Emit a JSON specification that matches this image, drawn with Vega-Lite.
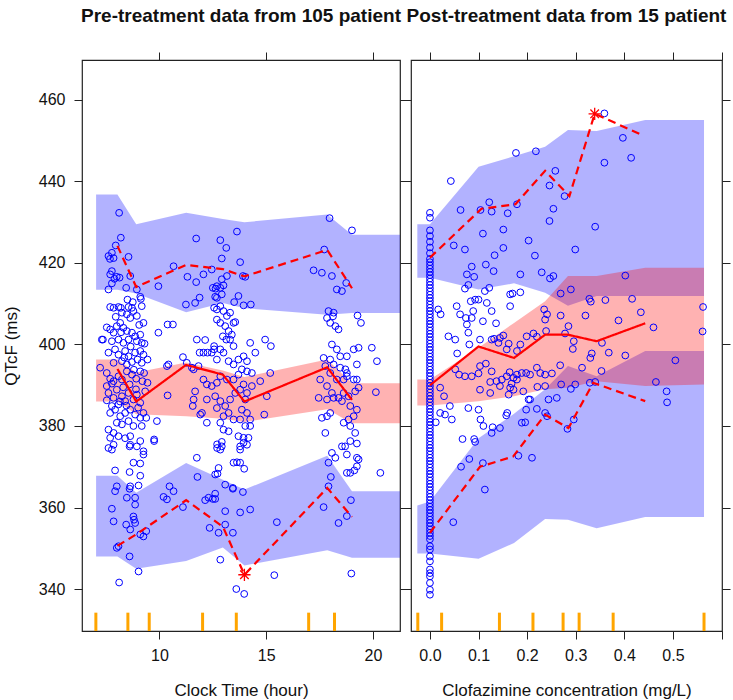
{
"$schema": "https://vega.github.io/schema/vega-lite/v6.json",
"padding": {"left": 1, "top": 5, "right": 0, "bottom": 2},
"bounds": "flush",
"spacing": 11,
"config": {
  "view": {"stroke": "#222", "strokeWidth": 1.2},
  "font": "Liberation Sans",
  "axis": {"grid": false, "domain": false, "tickColor": "#222", "tickSize": 8, "tickWidth": 1, "labelFontSize": 16, "titleFontSize": 17, "titleFontWeight": "normal", "labelColor": "#111", "titleColor": "#111", "labelFont": "Liberation Sans", "titleFont": "Liberation Sans"},
  "title": {"fontSize": 19, "fontWeight": "bold", "font": "Liberation Sans", "color": "#111", "offset": 26}
},
"datasets": {
  "bluL": [
    {"x":7.03,"lo":413.4,"hi":436.8,"b":"u"},{"x":8.03,"lo":413.4,"hi":436.8,"b":"u"},{"x":8.91,"lo":412.5,"hi":429.5,"b":"u"},{"x":11.25,"lo":407.9,"hi":432.3,"b":"u"},{"x":12.97,"lo":410.2,"hi":430.8,"b":"u"},{"x":13.98,"lo":408.9,"hi":430.0,"b":"u"},{"x":17.86,"lo":407.3,"hi":431.9,"b":"u"},{"x":19.02,"lo":407.7,"hi":426.9,"b":"u"},{"x":21.4,"lo":407.7,"hi":426.9,"b":"u"},
    {"x":7.03,"lo":348.0,"hi":367.8,"b":"l"},{"x":8.03,"lo":348.0,"hi":367.8,"b":"l"},{"x":8.91,"lo":345.0,"hi":363.6,"b":"l"},{"x":11.25,"lo":346.9,"hi":370.9,"b":"l"},{"x":12.97,"lo":350.2,"hi":366.8,"b":"l"},{"x":13.98,"lo":345.8,"hi":364.4,"b":"l"},{"x":17.86,"lo":349.5,"hi":372.7,"b":"l"},{"x":19.02,"lo":347.7,"hi":364.0,"b":"l"},{"x":21.4,"lo":347.7,"hi":364.0,"b":"l"}
  ],
  "pinkL": [
    {"x":7.03,"lo":386.0,"hi":396.3},{"x":8.03,"lo":386.0,"hi":396.3},{"x":8.91,"lo":382.9,"hi":393.1},{"x":11.25,"lo":382.4,"hi":395.6},{"x":12.97,"lo":381.8,"hi":393.6},{"x":13.98,"lo":381.0,"hi":392.0},{"x":17.86,"lo":384.1,"hi":396.3},{"x":19.02,"lo":380.7,"hi":390.5},{"x":21.4,"lo":380.7,"hi":390.5}
  ],
  "obsL": [
    {"x":8.03,"y":394.0,"q":"p50"},{"x":8.91,"y":386.0,"q":"p50"},{"x":11.25,"y":395.0,"q":"p50"},{"x":12.97,"y":392.6,"q":"p50"},{"x":13.98,"y":386.0,"q":"p50"},{"x":17.86,"y":394.4,"q":"p50"},{"x":19.02,"y":386.4,"q":"p50"},
    {"x":8.03,"y":424.2,"q":"p95"},{"x":8.91,"y":414.1,"q":"p95"},{"x":11.25,"y":419.5,"q":"p95"},{"x":12.97,"y":418.5,"q":"p95"},{"x":13.98,"y":416.7,"q":"p95"},{"x":17.86,"y":423.2,"q":"p95"},{"x":19.02,"y":413.8,"q":"p95"},
    {"x":8.03,"y":350.6,"q":"p05"},{"x":8.91,"y":353.4,"q":"p05"},{"x":11.25,"y":361.8,"q":"p05"},{"x":12.97,"y":355.3,"q":"p05"},{"x":13.98,"y":343.5,"q":"p05"},{"x":17.86,"y":364.8,"q":"p05"},{"x":19.02,"y":357.7,"q":"p05"}
  ],
  "starL": [{"x":13.98,"y":343.5}],
  "rugL": [{"x":7.02},{"x":8.52},{"x":9.52},{"x":12.02},{"x":13.6},{"x":16.99},{"x":18.2}],
  "ptsL": [
    {"x":8.11,"y":432.3},{"x":8.19,"y":426.2},{"x":7.95,"y":424.3},{"x":7.77,"y":422.5},{"x":7.61,"y":421.7},{"x":8.55,"y":421.5},{"x":11.72,"y":426.0},{"x":12.85,"y":425.6},{"x":13.13,"y":423.7},{"x":13.63,"y":427.7},{"x":12.92,"y":421.1},{"x":17.97,"y":431.0},{"x":19.02,"y":428.0},{"x":17.72,"y":423.3},{"x":7.68,"y":421.0},{"x":7.85,"y":421.2},{"x":13.78,"y":420.2},
    {"x":7.77,"y":418.0},{"x":7.69,"y":417.2},{"x":7.89,"y":416.1},{"x":8.13,"y":416.4},{"x":8.0,"y":416.6},{"x":8.63,"y":416.8},{"x":7.77,"y":415.0},{"x":7.61,"y":413.5},{"x":8.44,"y":413.9},{"x":8.94,"y":413.5},{"x":9.1,"y":411.7},{"x":9.13,"y":411.2},{"x":9.95,"y":414.3},{"x":10.66,"y":419.2},{"x":11.31,"y":416.6},{"x":11.72,"y":415.3},{"x":12.06,"y":417.2},{"x":11.24,"y":409.8},{"x":11.67,"y":410.2},{"x":11.88,"y":411.5},{"x":12.45,"y":418.4},{"x":13.16,"y":416.8},{"x":12.92,"y":416.0},{"x":12.69,"y":414.3},{"x":12.5,"y":413.9},{"x":12.63,"y":413.7},{"x":12.85,"y":413.9},{"x":13.0,"y":414.5},{"x":12.61,"y":411.7},{"x":12.69,"y":411.45},{"x":12.92,"y":412.3},{"x":13.91,"y":416.8},{"x":14.02,"y":416.6},{"x":13.7,"y":411.9},{"x":13.5,"y":410.4},{"x":13.94,"y":409.6},{"x":14.28,"y":409.8},{"x":17.22,"y":418.2},{"x":17.61,"y":417.6},{"x":18.08,"y":416.8},{"x":18.31,"y":413.5},{"x":18.55,"y":413.1},{"x":18.75,"y":415.1},{"x":17.92,"y":408.2},{"x":18.16,"y":407.8},{"x":17.85,"y":406.5},{"x":18.13,"y":406.9},{"x":19.28,"y":407.1},{"x":19.44,"y":405.3},
    {"x":8.08,"y":409.2},{"x":7.69,"y":409.2},{"x":7.85,"y":409.0},{"x":8.19,"y":409.0},{"x":8.55,"y":409.2},{"x":8.71,"y":409.0},{"x":8.78,"y":408.2},{"x":8.24,"y":407.8},{"x":8.47,"y":407.4},{"x":8.63,"y":406.5},{"x":8.94,"y":407.0},{"x":9.17,"y":409.4},
    {"x":7.53,"y":404.2},{"x":7.69,"y":403.7},{"x":7.85,"y":402.9},{"x":8.0,"y":404.5},{"x":8.16,"y":405.3},{"x":8.31,"y":404.1},{"x":8.47,"y":403.3},{"x":8.71,"y":402.9},{"x":8.86,"y":402.0},{"x":9.1,"y":402.4},{"x":9.25,"y":405.3},{"x":7.35,"y":401.2},{"x":7.3,"y":401.2},{"x":7.77,"y":400.8},{"x":8.08,"y":401.2},{"x":8.31,"y":400.4},{"x":8.55,"y":401.2},{"x":8.94,"y":400.8},{"x":9.17,"y":400.4},
    {"x":7.61,"y":398.0},{"x":7.92,"y":398.8},{"x":8.08,"y":397.5},{"x":8.39,"y":398.4},{"x":8.55,"y":397.1},{"x":8.86,"y":398.0},{"x":9.1,"y":398.4},{"x":9.25,"y":397.5},{"x":9.44,"y":396.3},{"x":7.85,"y":395.5},{"x":8.24,"y":395.9},{"x":8.47,"y":395.1},{"x":8.71,"y":395.7},{"x":8.97,"y":396.3},{"x":9.17,"y":395.5},
    {"x":7.22,"y":394.3},{"x":7.53,"y":393.0},{"x":7.69,"y":391.6},{"x":7.85,"y":391.0},{"x":8.08,"y":392.2},{"x":8.24,"y":391.4},{"x":8.47,"y":393.4},{"x":8.71,"y":392.6},{"x":8.91,"y":391.6},{"x":9.1,"y":393.4},{"x":9.28,"y":393.0},{"x":9.44,"y":390.6},{"x":7.53,"y":389.8},{"x":7.77,"y":390.4},
    {"x":7.61,"y":388.1},{"x":7.85,"y":386.9},{"x":8.0,"y":388.9},{"x":8.24,"y":387.3},{"x":8.39,"y":386.1},{"x":8.55,"y":388.1},{"x":8.78,"y":386.5},{"x":8.94,"y":387.7},{"x":9.1,"y":385.7},{"x":9.33,"y":388.5},{"x":7.53,"y":386.3},{"x":7.77,"y":384.9},{"x":8.08,"y":385.3},
    {"x":7.69,"y":383.2},{"x":7.92,"y":384.0},{"x":8.16,"y":382.4},{"x":8.39,"y":383.2},{"x":8.63,"y":384.0},{"x":8.86,"y":382.8},{"x":9.1,"y":382.0},{"x":9.25,"y":383.2},{"x":8.0,"y":380.8},{"x":8.24,"y":380.4},{"x":8.55,"y":381.2},{"x":8.78,"y":380.0},{"x":9.17,"y":380.0},{"x":9.38,"y":382.0},
    {"x":7.61,"y":379.1},{"x":7.85,"y":378.3},{"x":8.08,"y":377.5},{"x":8.39,"y":377.0},{"x":8.63,"y":377.5},{"x":7.69,"y":377.1},
    {"x":8.3,"y":389.5},{"x":8.6,"y":390.2},{"x":8.9,"y":389.0},{"x":9.0,"y":384.5},{"x":8.45,"y":385.0},{"x":8.15,"y":386.0},{"x":8.8,"y":393.8},{"x":8.35,"y":396.8},{"x":8.65,"y":399.5},{"x":9.05,"y":404.8},{"x":8.2,"y":403.0},{"x":7.95,"y":406.8},{"x":8.5,"y":411.0},{"x":8.75,"y":410.4},{"x":9.3,"y":400.2},{"x":9.2,"y":391.0},
    {"x":9.95,"y":402.9},{"x":10.38,"y":404.9},{"x":10.63,"y":404.9},{"x":10.35,"y":394.7},{"x":10.42,"y":395.1},{"x":10.38,"y":387.5},{"x":9.88,"y":381.2},{"x":9.75,"y":376.7},
    {"x":11.1,"y":396.9},{"x":11.28,"y":395.5},{"x":11.75,"y":401.2},{"x":12.14,"y":401.1},{"x":11.88,"y":398.0},{"x":12.06,"y":398.0},{"x":12.25,"y":398.0},{"x":11.52,"y":394.3},{"x":11.6,"y":393.9},{"x":11.83,"y":394.7},{"x":11.67,"y":388.5},{"x":11.56,"y":384.9},{"x":11.6,"y":386.5},{"x":12.06,"y":391.4},{"x":11.99,"y":383.2},{"x":11.91,"y":382.8},{"x":12.22,"y":380.8},{"x":12.22,"y":386.5},{"x":12.45,"y":398.0},{"x":12.56,"y":399.6},
    {"x":12.56,"y":409.0},{"x":12.69,"y":408.6},{"x":12.85,"y":409.4},{"x":13.0,"y":408.2},{"x":13.16,"y":407.0},{"x":13.31,"y":407.8},{"x":13.47,"y":405.3},{"x":12.69,"y":406.1},{"x":12.85,"y":405.3},{"x":13.08,"y":404.5},{"x":13.24,"y":403.3},{"x":13.39,"y":402.4},{"x":13.55,"y":405.5},{"x":12.97,"y":402.0},{"x":13.13,"y":401.2},{"x":13.31,"y":401.2},{"x":13.47,"y":399.6},{"x":12.56,"y":398.8},{"x":12.85,"y":398.8},{"x":12.69,"y":396.3},{"x":13.0,"y":398.0},{"x":13.24,"y":395.9},{"x":13.47,"y":395.1},{"x":13.7,"y":396.3},{"x":13.94,"y":397.1},{"x":14.1,"y":395.9},{"x":14.25,"y":400.4},{"x":14.49,"y":398.0},{"x":13.86,"y":393.9},{"x":14.1,"y":393.4},{"x":14.33,"y":393.0},{"x":13.7,"y":392.6},{"x":13.47,"y":391.4},{"x":13.16,"y":391.4},{"x":12.85,"y":392.2},{"x":12.69,"y":390.6},{"x":12.45,"y":389.8},{"x":12.22,"y":390.2},{"x":12.61,"y":387.3},{"x":12.85,"y":386.1},{"x":13.08,"y":384.9},{"x":13.31,"y":386.5},{"x":13.55,"y":388.1},{"x":13.78,"y":388.9},{"x":13.94,"y":390.2},{"x":14.1,"y":388.1},{"x":14.33,"y":389.8},{"x":14.02,"y":386.5},{"x":13.86,"y":384.0},{"x":14.1,"y":383.2},{"x":14.25,"y":381.6},{"x":13.78,"y":381.6},{"x":14.02,"y":380.0},{"x":14.25,"y":380.0},{"x":13.47,"y":381.6},{"x":13.24,"y":383.2},{"x":13.0,"y":382.4},{"x":12.85,"y":380.8},{"x":12.69,"y":384.4},{"x":13.24,"y":378.7},{"x":13.7,"y":377.5},{"x":13.94,"y":377.1},{"x":14.17,"y":377.1},{"x":13.0,"y":379.1},
    {"x":14.72,"y":391.0},{"x":15.19,"y":393.0},{"x":15.03,"y":387.3},{"x":14.91,"y":382.8},{"x":14.95,"y":401.2},{"x":15.22,"y":399.6},
    {"x":18.0,"y":405.3},{"x":18.24,"y":404.5},{"x":18.39,"y":403.7},{"x":18.08,"y":400.0},{"x":18.31,"y":398.8},{"x":18.47,"y":397.1},{"x":18.78,"y":397.1},{"x":19.1,"y":398.8},{"x":17.69,"y":396.7},{"x":18.0,"y":396.3},{"x":18.16,"y":395.1},{"x":17.77,"y":394.7},{"x":18.47,"y":394.3},{"x":18.71,"y":393.9},{"x":18.78,"y":392.2},{"x":18.0,"y":393.0},{"x":18.31,"y":391.4},{"x":18.63,"y":391.4},{"x":19.1,"y":391.4},{"x":19.25,"y":391.4},{"x":19.33,"y":389.4},{"x":17.53,"y":391.4},{"x":17.85,"y":389.8},{"x":18.08,"y":388.1},{"x":18.39,"y":386.9},{"x":18.63,"y":388.1},{"x":18.86,"y":387.3},{"x":19.17,"y":388.5},{"x":17.46,"y":386.9},{"x":17.85,"y":386.5},{"x":18.16,"y":386.9},{"x":18.55,"y":386.1},{"x":18.94,"y":384.9},{"x":19.25,"y":384.0},{"x":19.1,"y":382.4},{"x":18.86,"y":381.6},{"x":18.63,"y":380.8},{"x":18.94,"y":380.0},{"x":19.17,"y":378.3},{"x":17.85,"y":382.4},{"x":17.61,"y":382.0},{"x":17.77,"y":378.3},{"x":18.0,"y":383.2},{"x":19.33,"y":399.2},{"x":19.25,"y":395.1},{"x":18.78,"y":393.0},
    {"x":19.95,"y":399.2},{"x":20.19,"y":395.9},{"x":20.14,"y":388.3},
    {"x":7.61,"y":374.6},{"x":7.77,"y":374.2},{"x":7.85,"y":375.4},{"x":8.63,"y":375.4},{"x":8.6,"y":375.0},{"x":8.94,"y":375.0},{"x":9.1,"y":376.3},{"x":9.25,"y":373.8},{"x":9.25,"y":373.0},{"x":8.78,"y":371.0},{"x":9.1,"y":370.8},{"x":7.92,"y":369.1},{"x":8.6,"y":368.7},{"x":9.1,"y":367.8},{"x":8.0,"y":365.2},{"x":7.92,"y":364.0},{"x":8.63,"y":365.2},{"x":8.6,"y":364.6},{"x":9.02,"y":365.4},{"x":8.47,"y":362.4},{"x":8.86,"y":362.4},{"x":8.86,"y":360.7},{"x":7.77,"y":359.7},{"x":7.85,"y":356.6},{"x":8.44,"y":355.8},{"x":8.63,"y":354.6},{"x":8.78,"y":357.8},{"x":8.81,"y":357.0},{"x":8.86,"y":356.2},{"x":9.1,"y":353.4},{"x":9.25,"y":352.9},{"x":9.38,"y":354.2},{"x":8.0,"y":350.1},{"x":8.08,"y":350.5},{"x":8.6,"y":348.0},{"x":9.02,"y":344.3},{"x":8.11,"y":341.6},
    {"x":9.75,"y":376.3},{"x":10.47,"y":365.2},{"x":10.66,"y":364.0},{"x":10.19,"y":362.6},{"x":10.35,"y":362.0},{"x":11.1,"y":360.1},{"x":11.75,"y":372.2},{"x":11.78,"y":367.5},{"x":12.14,"y":361.8},{"x":12.3,"y":362.4},{"x":12.5,"y":362.1},{"x":12.61,"y":363.4},{"x":12.61,"y":362.1},{"x":12.35,"y":355.0},{"x":12.77,"y":353.8},{"x":12.77,"y":369.7},{"x":12.61,"y":368.1},{"x":12.72,"y":368.3},{"x":12.85,"y":347.2},{"x":12.7,"y":375.5},{"x":12.92,"y":375.0},{"x":12.85,"y":374.2},{"x":12.7,"y":374.6},{"x":12.92,"y":376.1},
    {"x":13.08,"y":365.6},{"x":13.44,"y":364.8},{"x":13.08,"y":359.1},{"x":13.08,"y":355.8},{"x":13.44,"y":353.8},{"x":13.47,"y":371.0},{"x":13.63,"y":371.1},{"x":13.78,"y":371.0},{"x":13.97,"y":369.5},{"x":13.78,"y":375.0},{"x":13.94,"y":375.9},{"x":13.78,"y":374.2},{"x":14.1,"y":375.4},{"x":13.44,"y":364.6},{"x":13.78,"y":358.8},{"x":13.91,"y":363.8},{"x":14.25,"y":359.5},{"x":13.6,"y":340.0},{"x":13.97,"y":338.8},{"x":15.5,"y":356.4},{"x":15.38,"y":343.4},
    {"x":17.92,"y":371.0},{"x":18.08,"y":373.4},{"x":18.24,"y":372.2},{"x":18.03,"y":367.5},{"x":17.92,"y":365.2},{"x":17.69,"y":360.1},{"x":18.39,"y":356.2},{"x":18.78,"y":357.9},{"x":18.97,"y":361.8},{"x":18.78,"y":368.5},{"x":18.94,"y":368.5},{"x":19.13,"y":369.1},{"x":19.25,"y":370.1},{"x":18.7,"y":375.0},{"x":18.94,"y":376.3},{"x":19.25,"y":375.7},{"x":18.55,"y":375.0},{"x":18.78,"y":373.0},{"x":19.25,"y":372.2},{"x":19.33,"y":371.8},{"x":18.99,"y":343.8},{"x":20.35,"y":368.5}
  ],
  "bluR": [
    {"x":-0.026,"lo":416.4,"hi":429.5,"b":"u"},{"x":0,"lo":416.4,"hi":429.5,"b":"u"},{"x":0.1,"lo":413.5,"hi":443.6,"b":"u"},{"x":0.173,"lo":415.0,"hi":446.2,"b":"u"},{"x":0.237,"lo":412.7,"hi":448.5,"b":"u"},{"x":0.284,"lo":409.5,"hi":452.6,"b":"u"},{"x":0.343,"lo":411.9,"hi":452.4,"b":"u"},{"x":0.443,"lo":411.9,"hi":455.1,"b":"u"},{"x":0.564,"lo":411.9,"hi":455.1,"b":"u"},
    {"x":-0.026,"lo":348.7,"hi":360.5,"b":"l"},{"x":0,"lo":348.7,"hi":361.5,"b":"l"},{"x":0.1,"lo":347.4,"hi":377.0,"b":"l"},{"x":0.173,"lo":351.3,"hi":383.0,"b":"l"},{"x":0.237,"lo":357.2,"hi":389.0,"b":"l"},{"x":0.284,"lo":357.0,"hi":394.7,"b":"l"},{"x":0.343,"lo":354.9,"hi":392.2,"b":"l"},{"x":0.443,"lo":357.7,"hi":398.4,"b":"l"},{"x":0.564,"lo":357.7,"hi":398.4,"b":"l"}
  ],
  "pinkR": [
    {"x":-0.026,"lo":385.0,"hi":391.4},{"x":0,"lo":385.0,"hi":391.4},{"x":0.1,"lo":386.1,"hi":399.2},{"x":0.173,"lo":387.3,"hi":405.3},{"x":0.237,"lo":389.0,"hi":410.6},{"x":0.284,"lo":389.4,"hi":416.8},{"x":0.343,"lo":391.0,"hi":416.8},{"x":0.443,"lo":389.8,"hi":418.8},{"x":0.564,"lo":390.2,"hi":418.8}
  ],
  "obsR": [
    {"x":0,"y":390.0,"q":"p50"},{"x":0.1,"y":399.5,"q":"p50"},{"x":0.173,"y":396.7,"q":"p50"},{"x":0.237,"y":402.4,"q":"p50"},{"x":0.284,"y":402.4,"q":"p50"},{"x":0.343,"y":400.8,"q":"p50"},{"x":0.443,"y":405.2,"q":"p50"},
    {"x":0,"y":421.3,"q":"p95"},{"x":0.106,"y":433.3,"q":"p95"},{"x":0.176,"y":434.4,"q":"p95"},{"x":0.237,"y":442.6,"q":"p95"},{"x":0.287,"y":436.4,"q":"p95"},{"x":0.339,"y":456.6,"q":"p95"},{"x":0.433,"y":451.6,"q":"p95"},
    {"x":0,"y":353.8,"q":"p05"},{"x":0.103,"y":370.0,"q":"p05"},{"x":0.171,"y":372.5,"q":"p05"},{"x":0.237,"y":382.8,"q":"p05"},{"x":0.285,"y":379.5,"q":"p05"},{"x":0.336,"y":390.6,"q":"p05"},{"x":0.443,"y":386.1,"q":"p05"}
  ],
  "starR": [{"x":0.339,"y":456.6}],
  "rugR": [{"x":-0.025},{"x":0.024},{"x":0.143},{"x":0.212},{"x":0.274},{"x":0.307},{"x":0.377},{"x":0.564}],
  "ptsR": [
    {"x":0,"y":432.3},{"x":0,"y":431.1},{"x":0,"y":428.0},{"x":0,"y":426.6},{"x":0,"y":425.2},{"x":0,"y":423.8},{"x":0,"y":422.4},{"x":0,"y":421.0},
    {"x":0,"y":420.2},{"x":0,"y":419.4},{"x":0,"y":418.6},{"x":0,"y":417.8},{"x":0,"y":417.0},{"x":0,"y":416.2},{"x":0,"y":415.4},{"x":0,"y":414.6},{"x":0,"y":413.8},{"x":0,"y":413.0},{"x":0,"y":412.2},{"x":0,"y":411.4},{"x":0,"y":410.6},{"x":0,"y":409.8},{"x":0,"y":409.0},{"x":0,"y":408.2},{"x":0,"y":407.4},{"x":0,"y":406.6},{"x":0,"y":405.8},{"x":0,"y":405.0},{"x":0,"y":404.2},{"x":0,"y":403.4},{"x":0,"y":402.6},{"x":0,"y":401.8},{"x":0,"y":401.0},{"x":0,"y":400.2},{"x":0,"y":399.4},{"x":0,"y":398.6},{"x":0,"y":397.8},{"x":0,"y":397.0},{"x":0,"y":396.2},{"x":0,"y":395.4},{"x":0,"y":394.6},{"x":0,"y":393.8},{"x":0,"y":393.0},{"x":0,"y":392.2},{"x":0,"y":391.4},{"x":0,"y":390.6},{"x":0,"y":389.8},{"x":0,"y":389.0},{"x":0,"y":388.2},{"x":0,"y":387.4},{"x":0,"y":386.6},{"x":0,"y":385.8},{"x":0,"y":385.0},{"x":0,"y":384.2},{"x":0,"y":383.4},{"x":0,"y":382.6},{"x":0,"y":381.8},{"x":0,"y":381.0},{"x":0,"y":380.2},{"x":0,"y":379.4},{"x":0,"y":378.6},{"x":0,"y":377.8},{"x":0,"y":377.0},{"x":0,"y":376.2},{"x":0,"y":375.4},{"x":0,"y":374.6},{"x":0,"y":373.8},{"x":0,"y":373.0},{"x":0,"y":372.2},{"x":0,"y":371.4},{"x":0,"y":370.6},{"x":0,"y":369.8},{"x":0,"y":369.0},{"x":0,"y":368.2},{"x":0,"y":367.4},{"x":0,"y":366.6},{"x":0,"y":365.8},{"x":0,"y":365.0},{"x":0,"y":364.2},{"x":0,"y":363.4},{"x":0,"y":362.6},{"x":0,"y":361.8},{"x":0,"y":361.0},{"x":0,"y":360.2},{"x":0,"y":359.4},{"x":0,"y":358.6},{"x":0,"y":357.8},{"x":0,"y":357.0},{"x":0,"y":356.2},{"x":0,"y":355.4},{"x":0,"y":354.6},{"x":0,"y":353.8},{"x":0,"y":353.0},{"x":0,"y":352.2},
    {"x":0,"y":350.5},{"x":0,"y":349.7},{"x":0,"y":348.0},{"x":0,"y":346.8},{"x":0,"y":344.8},{"x":0,"y":343.9},{"x":0,"y":343.1},{"x":0,"y":341.5},{"x":0,"y":339.8},{"x":0,"y":338.6},
    {"x":0.177,"y":447.0},{"x":0.218,"y":447.4},{"x":0.258,"y":442.6},{"x":0.359,"y":456.7},{"x":0.397,"y":450.7},{"x":0.414,"y":445.8},{"x":0.359,"y":444.6},
    {"x":0.043,"y":440.1},{"x":0.063,"y":433.0},{"x":0.049,"y":424.3},{"x":0.072,"y":423.3},{"x":0.086,"y":419.1},{"x":0.076,"y":417.2},{"x":0.091,"y":416.6},{"x":0.072,"y":413.7},{"x":0.079,"y":414.6},{"x":0.115,"y":419.6},{"x":0.122,"y":434.9},{"x":0.104,"y":433.0},{"x":0.127,"y":432.6},{"x":0.16,"y":432.2},{"x":0.179,"y":434.4},{"x":0.151,"y":428.2},{"x":0.109,"y":427.2},{"x":0.133,"y":421.9},{"x":0.131,"y":418.0},{"x":0.151,"y":423.7},{"x":0.203,"y":425.5},{"x":0.216,"y":421.8},{"x":0.186,"y":417.2},{"x":0.23,"y":417.7},{"x":0.247,"y":416.2},{"x":0.254,"y":416.8},{"x":0.246,"y":439.0},{"x":0.277,"y":436.4},{"x":0.254,"y":433.3},{"x":0.246,"y":430.3},{"x":0.34,"y":428.9},{"x":0.299,"y":423.3},{"x":0.269,"y":412.5},{"x":0.29,"y":413.5},{"x":0.122,"y":413.9},{"x":0.113,"y":413.1},{"x":0.165,"y":412.3},{"x":0.17,"y":412.5},{"x":0.186,"y":412.8},{"x":0.165,"y":409.4},{"x":0.1,"y":411.0},{"x":0.093,"y":411.0},{"x":0.084,"y":410.6},{"x":0.117,"y":410.2},{"x":0.127,"y":408.2},{"x":0.089,"y":408.2},{"x":0.055,"y":409.4},{"x":0.062,"y":407.4},{"x":0.074,"y":406.5},{"x":0.086,"y":406.5},{"x":0.076,"y":404.9},{"x":0.109,"y":405.7},{"x":0.136,"y":405.2},{"x":0.079,"y":402.9},{"x":0.038,"y":402.0},{"x":0.052,"y":401.2},{"x":0.081,"y":400.0},{"x":0.017,"y":408.6},{"x":0.022,"y":407.4},{"x":0.056,"y":397.8},{"x":0.103,"y":401.2},{"x":0.127,"y":401.2},{"x":0.132,"y":401.4},{"x":0.144,"y":401.6},{"x":0.141,"y":400.4},{"x":0.151,"y":402.2},{"x":0.162,"y":400.2},{"x":0.158,"y":398.8},{"x":0.179,"y":398.4},{"x":0.186,"y":400.0},{"x":0.199,"y":402.0},{"x":0.213,"y":402.7},{"x":0.22,"y":401.9},{"x":0.239,"y":403.3},{"x":0.237,"y":406.1},{"x":0.241,"y":407.4},{"x":0.235,"y":408.6},{"x":0.269,"y":407.1},{"x":0.285,"y":404.5},{"x":0.278,"y":402.7},{"x":0.296,"y":400.8},{"x":0.294,"y":398.9},{"x":0.32,"y":407.1},{"x":0.328,"y":411.2},{"x":0.331,"y":410.5},{"x":0.361,"y":410.9},{"x":0.388,"y":405.9},{"x":0.416,"y":411.2},{"x":0.434,"y":407.9},{"x":0.402,"y":416.9},{"x":0.46,"y":404.2},{"x":0.354,"y":400.4},{"x":0.333,"y":397.8},{"x":0.33,"y":396.7},{"x":0.368,"y":398.0},{"x":0.402,"y":397.3},{"x":0.505,"y":396.1},{"x":0.562,"y":409.2},{"x":0.561,"y":403.2},{"x":0.313,"y":394.3},{"x":0.353,"y":393.5},{"x":0.34,"y":390.8},{"x":0.329,"y":390.6},{"x":0.299,"y":390.2},{"x":0.29,"y":389.1},{"x":0.27,"y":390.2},{"x":0.268,"y":394.9},{"x":0.251,"y":392.9},{"x":0.237,"y":392.6},{"x":0.227,"y":393.0},{"x":0.22,"y":394.3},{"x":0.206,"y":392.6},{"x":0.198,"y":393.0},{"x":0.189,"y":393.0},{"x":0.179,"y":392.6},{"x":0.172,"y":391.8},{"x":0.164,"y":393.2},{"x":0.179,"y":391.4},{"x":0.168,"y":390.4},{"x":0.165,"y":389.4},{"x":0.158,"y":392.2},{"x":0.148,"y":391.4},{"x":0.137,"y":391.0},{"x":0.127,"y":393.4},{"x":0.124,"y":390.8},{"x":0.115,"y":395.3},{"x":0.103,"y":394.7},{"x":0.1,"y":392.9},{"x":0.086,"y":392.2},{"x":0.072,"y":392.2},{"x":0.06,"y":392.6},{"x":0.052,"y":393.9},{"x":0.103,"y":388.9},{"x":0.124,"y":388.1},{"x":0.144,"y":389.8},{"x":0.162,"y":387.7},{"x":0.172,"y":388.9},{"x":0.192,"y":388.5},{"x":0.206,"y":386.5},{"x":0.221,"y":389.6},{"x":0.237,"y":389.8},{"x":0.244,"y":386.5},{"x":0.261,"y":386.9},{"x":0.22,"y":384.2},{"x":0.198,"y":384.0},{"x":0.203,"y":386.5},{"x":0.189,"y":380.8},{"x":0.159,"y":383.2},{"x":0.157,"y":382.6},{"x":0.144,"y":379.5},{"x":0.129,"y":379.7},{"x":0.127,"y":378.3},{"x":0.11,"y":380.0},{"x":0.1,"y":384.0},{"x":0.104,"y":381.6},{"x":0.079,"y":384.4},{"x":0.041,"y":384.9},{"x":0.045,"y":381.6},{"x":0.021,"y":383.2},{"x":0.031,"y":382.8},{"x":0.012,"y":380.9},{"x":0.029,"y":387.3},{"x":0.021,"y":389.4},{"x":0.196,"y":380.9},{"x":0.241,"y":382.4},{"x":0.237,"y":383.2},{"x":0.283,"y":379.3},{"x":0.296,"y":381.6},{"x":0.465,"y":390.8},{"x":0.487,"y":388.5},{"x":0.488,"y":385.8},{"x":0.067,"y":376.8},{"x":0.091,"y":376.8},{"x":0.093,"y":376.1},{"x":0.182,"y":372.7},{"x":0.21,"y":372.2},{"x":0.081,"y":371.9},{"x":0.109,"y":370.9},{"x":0.064,"y":370.0},{"x":0.113,"y":364.4},{"x":0.048,"y":356.4}
  ]
},
"hconcat": [
  {
    "width": 318, "height": 571,
    "title": {"text": "Pre-treatment data from 105 patient"},
    "resolve": {"axis": {"x": "independent", "y": "independent"}},
    "layer": [
      {"data": {"name": "bluL"}, "mark": {"type": "area", "color": "#0000FF", "opacity": 0.3, "clip": true},
       "encoding": {
         "x": {"field": "x", "type": "quantitative", "scale": {"domain": [6.37, 21.27], "nice": false, "zero": false}, "axis": {"orient": "top", "values": [10, 15, 20], "labels": false, "title": null}},
         "y": {"field": "lo", "type": "quantitative", "scale": {"domain": [329.7, 469.8], "nice": false, "zero": false}, "axis": {"orient": "right", "values": [340, 360, 380, 400, 420, 440, 460], "labels": false, "title": null}},
         "y2": {"field": "hi"}, "detail": {"field": "b"}}},
      {"data": {"name": "pinkL"}, "mark": {"type": "area", "color": "#FF0000", "opacity": 0.3, "clip": true},
       "encoding": {"x": {"field": "x", "type": "quantitative", "axis": null}, "y": {"field": "lo", "type": "quantitative", "axis": null}, "y2": {"field": "hi"}}},
      {"data": {"name": "ptsL"}, "mark": {"type": "point", "shape": "circle", "filled": false, "color": "#0000FF", "size": 46, "strokeWidth": 1, "opacity": 1},
       "encoding": {
         "x": {"field": "x", "type": "quantitative", "axis": {"orient": "bottom", "values": [10, 15, 20], "title": "Clock Time (hour)", "labelPadding": 8, "titlePadding": 19}},
         "y": {"field": "y", "type": "quantitative", "axis": {"orient": "left", "values": [340, 360, 380, 400, 420, 440, 460], "title": "QTcF (ms)", "labelPadding": 9, "titlePadding": 18}}}},
      {"data": {"name": "obsL"}, "mark": {"type": "line", "color": "#FF0000", "strokeWidth": 2.2},
       "encoding": {"x": {"field": "x", "type": "quantitative", "axis": null}, "y": {"field": "y", "type": "quantitative", "axis": null}, "detail": {"field": "q"},
         "strokeDash": {"field": "q", "type": "nominal", "scale": {"domain": ["p05", "p50", "p95"], "range": [[8, 5], [1, 0], [8, 5]]}, "legend": null}}},
      {"data": {"name": "starL"}, "mark": {"type": "point", "shape": "M0,-1L0,1M-1,0L1,0M-0.7,-0.7L0.7,0.7M-0.7,0.7L0.7,-0.7", "filled": false, "color": "#FF0000", "size": 150, "strokeWidth": 1.3, "opacity": 1},
       "encoding": {"x": {"field": "x", "type": "quantitative", "axis": null}, "y": {"field": "y", "type": "quantitative", "axis": null}}},
      {"data": {"name": "rugL"}, "mark": {"type": "rule", "color": "#FFA500", "strokeWidth": 3},
       "encoding": {"x": {"field": "x", "type": "quantitative", "axis": null}, "y": {"datum": 329.7, "type": "quantitative", "axis": null}, "y2": {"datum": 334.2}}}
    ]
  },
  {
    "width": 311, "height": 571,
    "title": {"text": "Post-treatment data from 15 patient"},
    "resolve": {"axis": {"x": "independent", "y": "independent"}},
    "layer": [
      {"data": {"name": "bluR"}, "mark": {"type": "area", "color": "#0000FF", "opacity": 0.3, "clip": true},
       "encoding": {
         "x": {"field": "x", "type": "quantitative", "scale": {"domain": [-0.039, 0.601], "nice": false, "zero": false}, "axis": {"orient": "top", "values": [0, 0.1, 0.2, 0.3, 0.4, 0.5, 0.6], "labels": false, "title": null}},
         "y": {"field": "lo", "type": "quantitative", "scale": {"domain": [329.7, 469.8], "nice": false, "zero": false}, "axis": {"orient": "right", "values": [340, 360, 380, 400, 420, 440, 460], "labels": false, "title": null}},
         "y2": {"field": "hi"}, "detail": {"field": "b"}}},
      {"data": {"name": "pinkR"}, "mark": {"type": "area", "color": "#FF0000", "opacity": 0.3, "clip": true},
       "encoding": {"x": {"field": "x", "type": "quantitative", "axis": null}, "y": {"field": "lo", "type": "quantitative", "axis": null}, "y2": {"field": "hi"}}},
      {"data": {"name": "ptsR"}, "mark": {"type": "point", "shape": "circle", "filled": false, "color": "#0000FF", "size": 46, "strokeWidth": 1, "opacity": 1},
       "encoding": {
         "x": {"field": "x", "type": "quantitative", "axis": {"orient": "bottom", "values": [0, 0.1, 0.2, 0.3, 0.4, 0.5, 0.6], "format": ".1f", "labelExpr": "datum.value > 0.55 ? '' : datum.label", "title": "Clofazimine concentration (mg/L)", "labelPadding": 8, "titlePadding": 19}},
         "y": {"field": "y", "type": "quantitative", "axis": {"orient": "left", "values": [340, 360, 380, 400, 420, 440, 460], "labels": false, "title": null}}}},
      {"data": {"name": "obsR"}, "mark": {"type": "line", "color": "#FF0000", "strokeWidth": 2.2},
       "encoding": {"x": {"field": "x", "type": "quantitative", "axis": null}, "y": {"field": "y", "type": "quantitative", "axis": null}, "detail": {"field": "q"},
         "strokeDash": {"field": "q", "type": "nominal", "scale": {"domain": ["p05", "p50", "p95"], "range": [[8, 5], [1, 0], [8, 5]]}, "legend": null}}},
      {"data": {"name": "starR"}, "mark": {"type": "point", "shape": "M0,-1L0,1M-1,0L1,0M-0.7,-0.7L0.7,0.7M-0.7,0.7L0.7,-0.7", "filled": false, "color": "#FF0000", "size": 150, "strokeWidth": 1.3, "opacity": 1},
       "encoding": {"x": {"field": "x", "type": "quantitative", "axis": null}, "y": {"field": "y", "type": "quantitative", "axis": null}}},
      {"data": {"name": "rugR"}, "mark": {"type": "rule", "color": "#FFA500", "strokeWidth": 3},
       "encoding": {"x": {"field": "x", "type": "quantitative", "axis": null}, "y": {"datum": 329.7, "type": "quantitative", "axis": null}, "y2": {"datum": 334.2}}}
    ]
  }
]
}
